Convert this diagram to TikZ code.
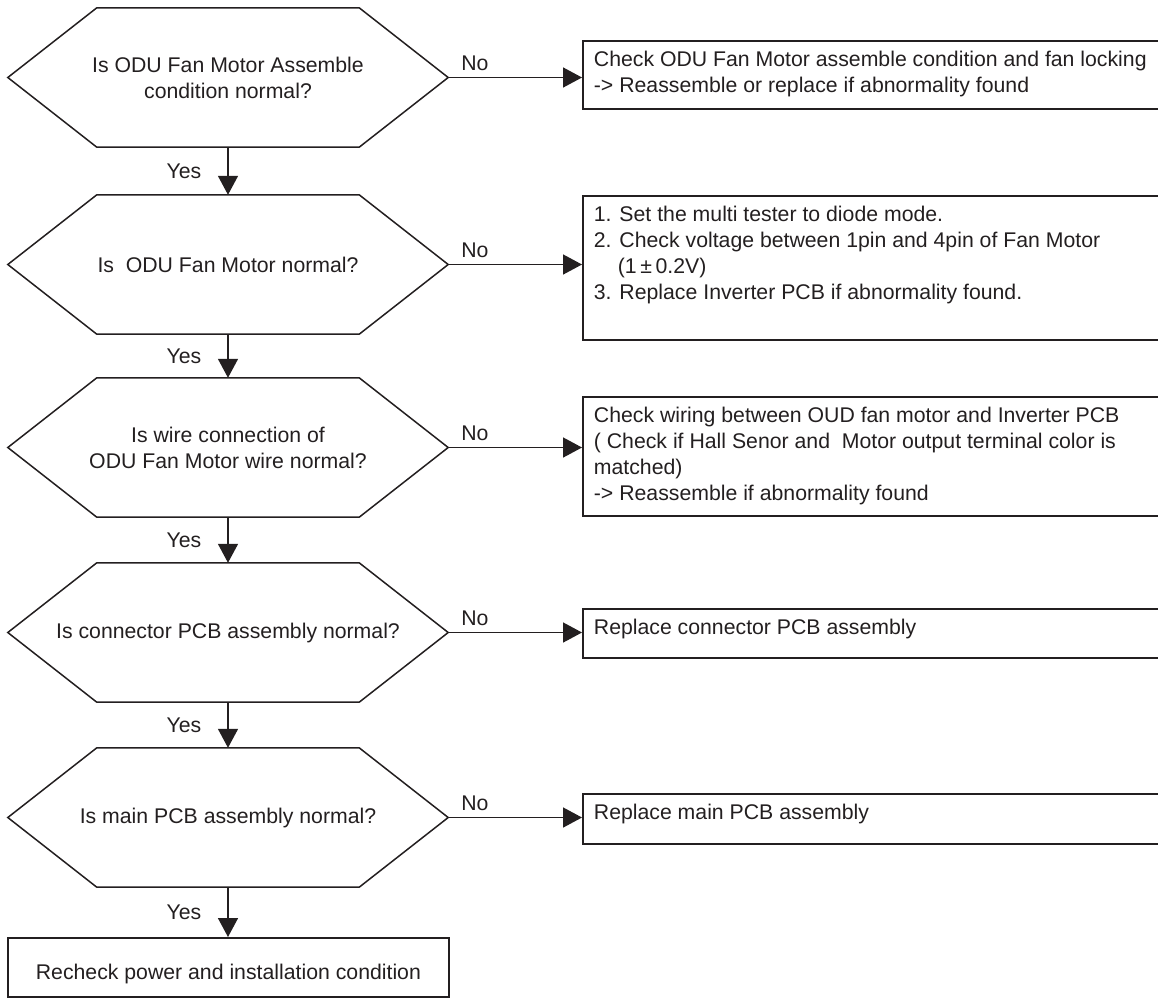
\documentclass[tikz,border=0pt]{standalone}
\usepackage{fontspec}
\setmainfont{Liberation Sans}
\usetikzlibrary{arrows.meta}
\definecolor{ink}{HTML}{231F20}
\newcommand\hexpath[1]{\draw[hexline] (#1.west) -- ([xshift=89pt]#1.north west) -- ([xshift=-89pt]#1.north east) -- (#1.east) -- ([xshift=-89pt]#1.south east) -- ([xshift=89pt]#1.south west) -- cycle;}
\newcommand\bxtext[2]{\parbox[c][#1][t]{560pt}{\rule{0pt}{25.5pt}#2}}
\begin{document}
\begin{tikzpicture}[x=1pt,y=1pt,
  txt/.style={font=\fontsize{21.25pt}{26pt}\selectfont, text=ink},
  hexnode/.style={txt, inner sep=0pt, minimum width=440pt, minimum height=139pt, align=center},
  hexline/.style={draw=ink, line width=1.5pt, line join=miter},
  actbox/.style={txt, draw=ink, line width=1.8pt, anchor=north west, inner xsep=11pt, inner ysep=0pt},
  finbox/.style={txt, draw=ink, line width=1.8pt, anchor=north west, inner sep=0pt},
  arr/.style={draw=ink, line width=1.5pt, -{Triangle[length=19pt,width=20pt]}},
  lbl/.style={txt, inner sep=0pt}]
\useasboundingbox (0,0) rectangle (1158,-999);
\clip (0,0) rectangle (1158,-999);

% decisions
\node[hexnode] (h1) at (228,-77.5) {Is ODU Fan Motor Assemble\\condition normal?};
\node[hexnode] (h2) at (228,-264.5) {Is~ ODU Fan Motor normal?};
\node[hexnode] (h3) at (228,-447.5) {Is wire connection of\\ODU Fan Motor wire normal?};
\node[hexnode] (h4) at (228,-632.5) {Is connector PCB assembly normal?};
\node[hexnode] (h5) at (228,-817.5) {Is main PCB assembly normal?};
\hexpath{h1}
\hexpath{h2}
\hexpath{h3}
\hexpath{h4}
\hexpath{h5}

% action boxes
\node[actbox] (b1) at (582,-40) {\bxtext{68pt}{Check ODU Fan Motor assemble condition and fan locking\\-> Reassemble or replace if abnormality found}};
\node[actbox] (b2) at (582,-195) {\bxtext{144pt}{1. Set the multi tester to diode mode.\\2. Check voltage between 1pin and 4pin of Fan Motor\\\hspace*{24pt}(1\,±\,0.2V)\\3. Replace Inverter PCB if abnormality found.}};
\node[actbox] (b3) at (582,-396) {\bxtext{119pt}{Check wiring between OUD fan motor and Inverter PCB\\( Check if Hall Senor and~ Motor output terminal color is\\matched)\\-> Reassemble if abnormality found}};
\node[actbox] (b4) at (582,-608) {\bxtext{49pt}{Replace connector PCB assembly}};
\node[actbox] (b5) at (582,-793) {\bxtext{50pt}{Replace main PCB assembly}};
\node[finbox] (fin) at (7,-937) {\parbox[c][59pt][t]{441pt}{\centering\rule{0pt}{41.5pt}Recheck power and installation condition}};

% No connectors
\draw[arr] (h1.east) -- node[lbl, pos=0.2, yshift=14pt] {No} (h1.east -| b1.west);
\draw[arr] (h2.east) -- node[lbl, pos=0.2, yshift=14pt] {No} (h2.east -| b2.west);
\draw[arr] (h3.east) -- node[lbl, pos=0.2, yshift=14pt] {No} (h3.east -| b3.west);
\draw[arr] (h4.east) -- node[lbl, pos=0.2, yshift=14pt] {No} (h4.east -| b4.west);
\draw[arr] (h5.east) -- node[lbl, pos=0.2, yshift=14pt] {No} (h5.east -| b5.west);

% Yes connectors
\draw[arr] (h1.south) -- node[lbl, midway, xshift=-44pt] {Yes} (h2.north);
\draw[arr] (h2.south) -- node[lbl, midway, xshift=-44pt] {Yes} (h3.north);
\draw[arr] (h3.south) -- node[lbl, midway, xshift=-44pt] {Yes} (h4.north);
\draw[arr] (h4.south) -- node[lbl, midway, xshift=-44pt] {Yes} (h5.north);
\draw[arr] (h5.south) -- node[lbl, midway, xshift=-44pt] {Yes} (h5.south |- fin.north);
\end{tikzpicture}
\end{document}
